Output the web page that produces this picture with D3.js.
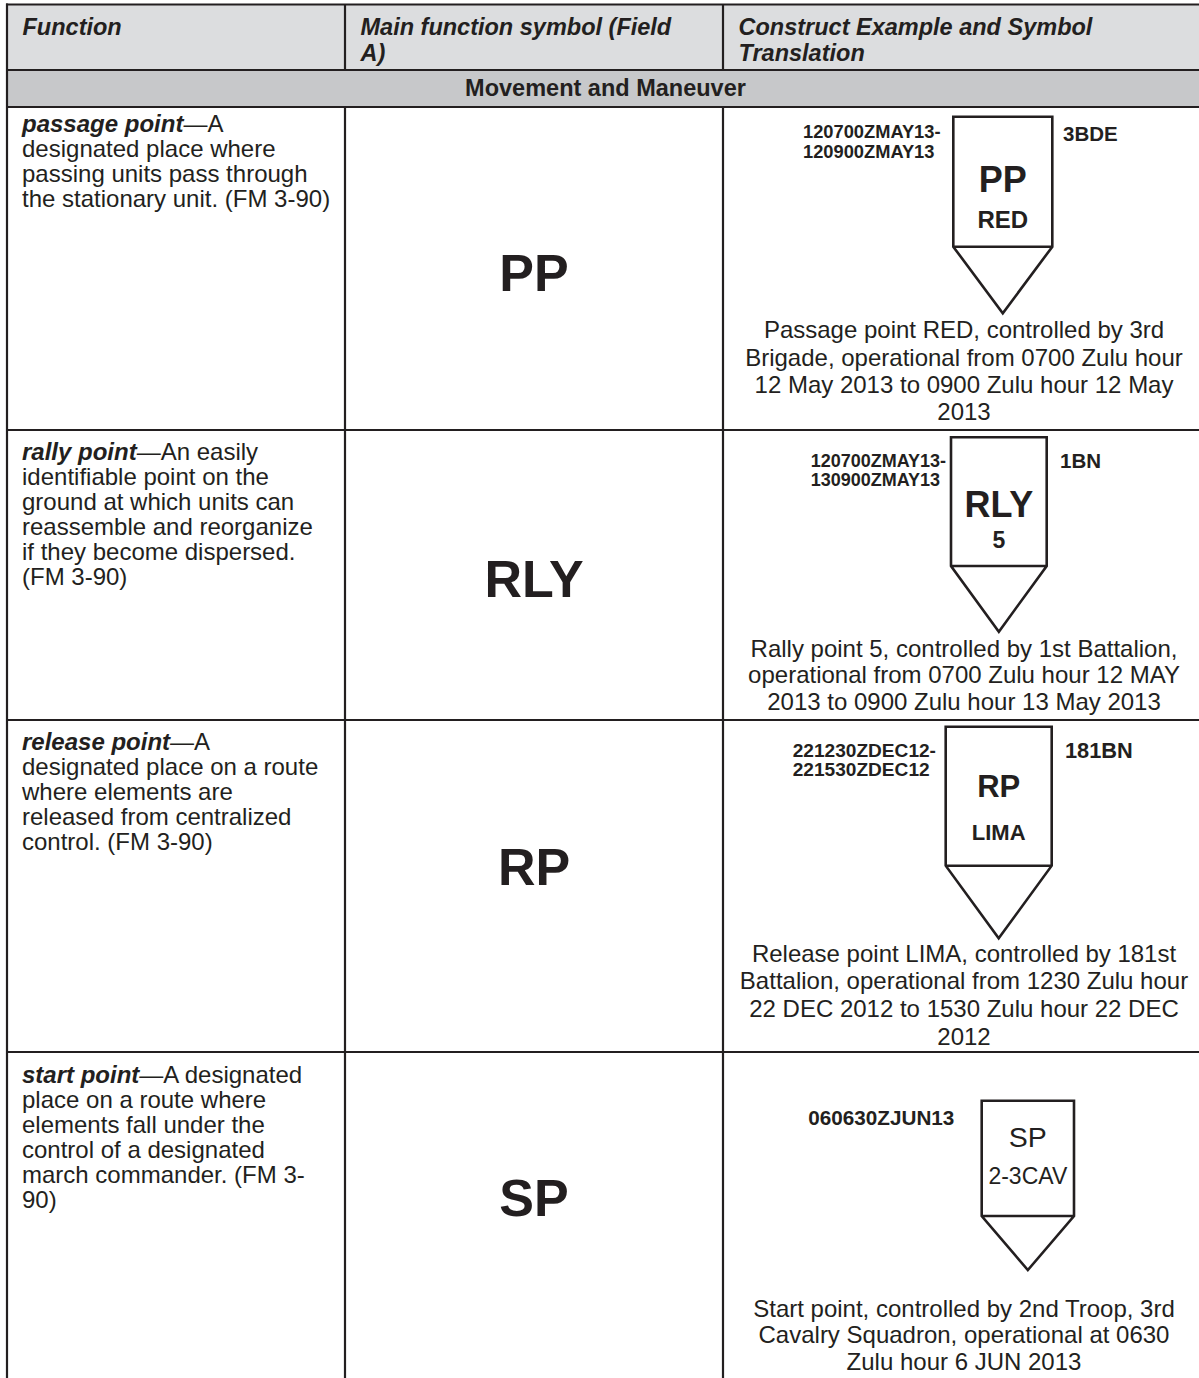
<!DOCTYPE html>
<html>
<head>
<meta charset="utf-8">
<script src="https://cdn.jsdelivr.net/npm/d3@7"></script>
<style>
  html, body { margin: 0; padding: 0; background: #ffffff; }
  svg { display: block; }
  text { font-family: "Liberation Sans", Arial, Helvetica, sans-serif; fill: #231f20; }
</style>
</head>
<body>
<div id="chart"></div>
<script>
// ---------------- data ----------------
const columnHeaders = [
  ["Function"],
  ["Main function symbol (Field", "A)"],
  ["Construct Example and Symbol", "Translation"]
];
const sectionTitle = "Movement and Maneuver";
const functionTerms = ["passage point", "rally point", "release point", "start point"];
const definitionFirstRest = ["\u2014A", "\u2014An easily", "\u2014A", "\u2014A designated"];
const definitionLines = [
  ["designated place where", "passing units pass through", "the stationary unit. (FM 3-90)"],
  ["identifiable point on the", "ground at which units can", "reassemble and reorganize", "if they become dispersed.", "(FM 3-90)"],
  ["designated place on a route", "where elements are", "released from centralized", "control. (FM 3-90)"],
  ["place on a route where", "elements fall under the", "control of a designated", "march commander. (FM 3-", "90)"]
];
const mainSymbols = ["PP", "RLY", "RP", "SP"];
const nameLabels = ["RED", "5", "LIMA", "2-3CAV"];
const dtgLabels = [
  ["120700ZMAY13-", "120900ZMAY13"],
  ["120700ZMAY13-", "130900ZMAY13"],
  ["221230ZDEC12-", "221530ZDEC12"],
  ["060630ZJUN13"]
];
const unitLabels = ["3BDE", "1BN", "181BN", ""];
const translations = [
  ["Passage point RED, controlled by 3rd", "Brigade, operational from 0700 Zulu hour", "12 May 2013 to 0900 Zulu hour 12 May", "2013"],
  ["Rally point 5, controlled by 1st Battalion,", "operational from 0700 Zulu hour 12 MAY", "2013 to 0900 Zulu hour 13 May 2013"],
  ["Release point LIMA, controlled by 181st", "Battalion, operational from 1230 Zulu hour", "22 DEC 2012 to 1530 Zulu hour 22 DEC", "2012"],
  ["Start point, controlled by 2nd Troop, 3rd", "Cavalry Squadron, operational at 0630", "Zulu hour 6 JUN 2013"]
];

// ---------------- layout (positions / styles) ----------------
const W = 1199, H = 1378;
const ink = "#231f20";
const colKeys = ["function", "symbol", "example"];
const colX = d3.scaleOrdinal().domain(colKeys).range([7, 345, 723]);
const tableRight = 1210;
const headerTop = 4.5, headerBottom = 70, sectionBottom = 107;
const rowIds = d3.range(mainSymbols.length);
const rowTop = d3.scaleOrdinal().domain(rowIds).range([107, 430, 720, 1052]);
const rowBottom = d3.scaleOrdinal().domain(rowIds).range([430, 720, 1052, 1420]);

const defFirstBaseline = [132, 460, 750, 1083];
const defLineH = 24.9;
const mainBaseline = [291, 597, 885, 1216];

const boxes = [
  {l: 953.3, r: 1052.3, t: 116.7, b: 246.7, tip: 313.3},
  {l: 951.0, r: 1046.7, t: 437.3, b: 566.0, tip: 631.7},
  {l: 945.7, r: 1051.7, t: 726.7, b: 865.7, tip: 938.3},
  {l: 981.7, r: 1074.0, t: 1100.7, b: 1216.0, tip: 1270.0}
];
const symStyle = [
  {y: 191.7, size: 36, w: "bold", ny: 228.3, nsize: 24, nw: "bold"},
  {y: 517.3, size: 36, w: "bold", ny: 548.3, nsize: 23, nw: "bold"},
  {y: 797.3, size: 31, w: "bold", ny: 840.0, nsize: 22, nw: "bold"},
  {y: 1146.7, size: 28.5, w: "normal", ny: 1184.3, nsize: 23, nw: "normal"}
];
const dtgStyle = [
  {x: 803, y: 138.3, size: 18.3},
  {x: 810.7, y: 466.7, size: 18.0},
  {x: 792.7, y: 756.7, size: 19.1},
  {x: 808.3, y: 1125, size: 20.7}
];
const dtgLineH = 19.5;
const unitStyle = [
  {x: 1063, y: 140.7, size: 20.5},
  {x: 1060, y: 467.7, size: 20.5},
  {x: 1065, y: 758.3, size: 21.8},
  {x: 0, y: 0, size: 0}
];
const transFirst = [338.3, 656.7, 961.7, 1316.7];
const transLineH = [27.2, 26.7, 27.7, 26.7];
const transCenter = 964;

// ---------------- drawing ----------------
const svg = d3.select("#chart").append("svg")
  .attr("width", W).attr("height", H).attr("viewBox", `0 0 ${W} ${H}`);

// backgrounds
svg.append("rect").attr("x", colX("function")).attr("y", headerTop)
  .attr("width", tableRight - colX("function")).attr("height", headerBottom - headerTop)
  .attr("fill", "#dcdddf");
svg.append("rect").attr("x", colX("function")).attr("y", headerBottom)
  .attr("width", tableRight - colX("function")).attr("height", sectionBottom - headerBottom)
  .attr("fill", "#c7c8ca");

// grid lines
const grid = svg.append("g").attr("stroke", ink).attr("stroke-width", 2.2).attr("fill", "none");
[headerTop, headerBottom, sectionBottom].concat(rowIds.slice(1).map(rowTop)).forEach(y => {
  grid.append("line").attr("x1", colX("function") - 1).attr("x2", tableRight).attr("y1", y).attr("y2", y);
});
grid.append("line").attr("x1", colX("function")).attr("x2", colX("function")).attr("y1", headerTop - 1).attr("y2", H + 10);
["symbol", "example"].forEach(k => {
  grid.append("line").attr("x1", colX(k)).attr("x2", colX(k)).attr("y1", headerTop).attr("y2", headerBottom);
  grid.append("line").attr("x1", colX(k)).attr("x2", colX(k)).attr("y1", sectionBottom).attr("y2", H + 10);
});

// header text
const headerBase = [34.5, 60.5];
columnHeaders.forEach((lines, i) => {
  lines.forEach((ln, j) => {
    svg.append("text").attr("x", colX(colKeys[i]) + 15.5).attr("y", headerBase[j])
      .attr("font-size", 23.5).attr("font-weight", "bold").attr("font-style", "italic")
      .text(ln);
  });
});
svg.append("text").attr("x", (colX("function") + tableRight) / 2 - 3).attr("y", 96)
  .attr("text-anchor", "middle").attr("font-size", 23.5).attr("font-weight", "bold")
  .text(sectionTitle);

// rows
rowIds.forEach(i => {
  // column 1: definition
  const t0 = svg.append("text").attr("x", colX("function") + 15).attr("y", defFirstBaseline[i]).attr("font-size", 24);
  t0.append("tspan").attr("font-weight", "bold").attr("font-style", "italic").text(functionTerms[i]);
  t0.append("tspan").text(definitionFirstRest[i]);
  definitionLines[i].forEach((ln, j) => {
    svg.append("text").attr("x", colX("function") + 15).attr("y", defFirstBaseline[i] + (j + 1) * defLineH)
      .attr("font-size", 24).text(ln);
  });

  // column 2: main symbol
  svg.append("text").attr("x", (colX("symbol") + colX("example")) / 2).attr("y", mainBaseline[i])
    .attr("text-anchor", "middle").attr("font-size", 52).attr("font-weight", "bold")
    .text(mainSymbols[i]);

  // column 3: graphic
  const b = boxes[i];
  const cx = (b.l + b.r) / 2;
  const p = d3.path();
  p.moveTo(b.l, b.t); p.lineTo(b.r, b.t); p.lineTo(b.r, b.b); p.lineTo(cx, b.tip); p.lineTo(b.l, b.b); p.closePath();
  p.moveTo(b.l, b.b); p.lineTo(b.r, b.b);
  svg.append("path").attr("d", p.toString()).attr("fill", "none").attr("stroke", ink)
    .attr("stroke-width", 2.6).attr("stroke-linejoin", "miter");

  const s = symStyle[i];
  svg.append("text").attr("x", cx).attr("y", s.y).attr("text-anchor", "middle")
    .attr("font-size", s.size).attr("font-weight", s.w).text(mainSymbols[i]);
  svg.append("text").attr("x", cx).attr("y", s.ny).attr("text-anchor", "middle")
    .attr("font-size", s.nsize).attr("font-weight", s.nw).text(nameLabels[i]);

  const d = dtgStyle[i];
  dtgLabels[i].forEach((ln, j) => {
    svg.append("text").attr("x", d.x).attr("y", d.y + j * dtgLineH)
      .attr("font-size", d.size).attr("font-weight", "bold").text(ln);
  });
  if (unitLabels[i]) {
    const u = unitStyle[i];
    svg.append("text").attr("x", u.x).attr("y", u.y).attr("font-size", u.size)
      .attr("font-weight", "bold").text(unitLabels[i]);
  }

  translations[i].forEach((ln, j) => {
    svg.append("text").attr("x", transCenter).attr("y", transFirst[i] + j * transLineH[i])
      .attr("text-anchor", "middle").attr("font-size", 24).text(ln);
  });
});
</script>
</body>
</html>
